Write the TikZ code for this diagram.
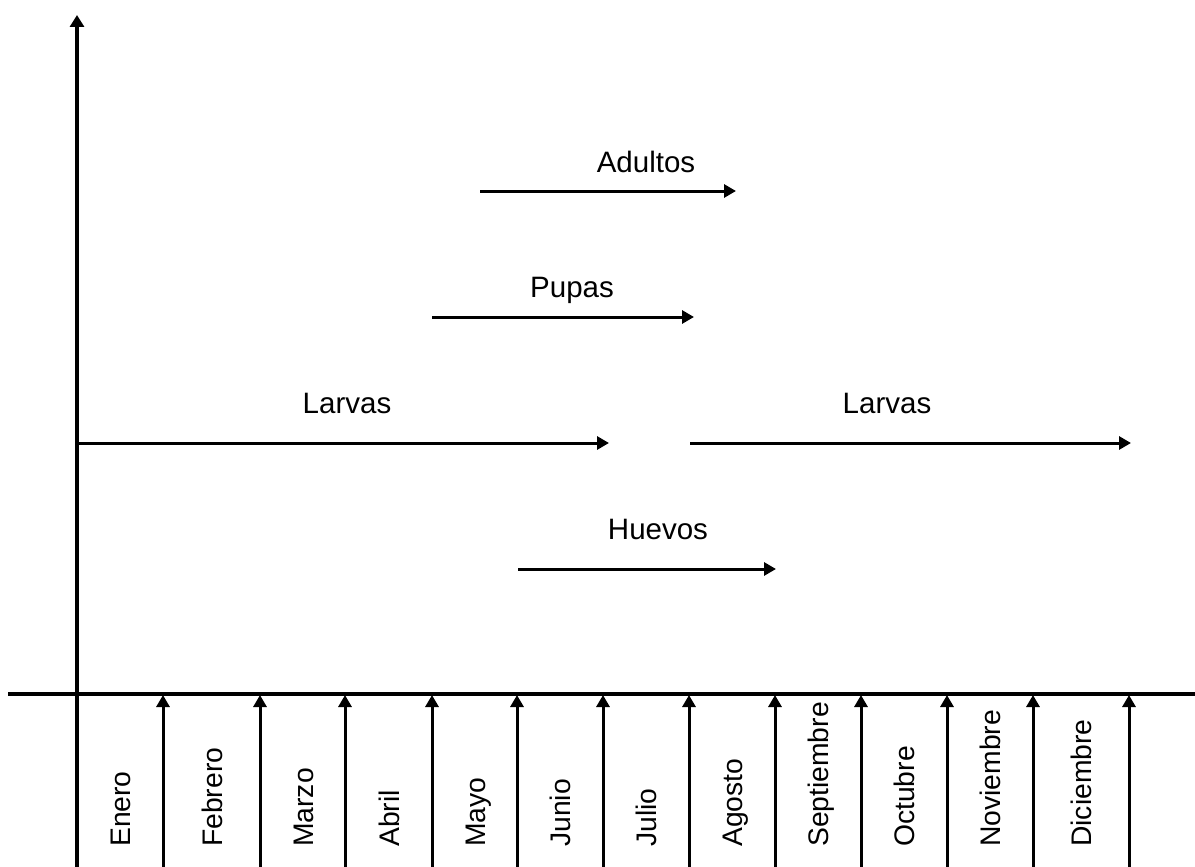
\documentclass[tikz,border=0pt]{standalone}
\usepackage{fontspec}
\setmainfont{Liberation Sans}
\usetikzlibrary{arrows.meta}

\tikzset{
	eje/.style={line width=3.2pt},
	flecha/.style={line width=3pt, -{Triangle[length=12pt,width=13pt]}},
	etapa/.style={inner sep=0pt, anchor=base, font=\fontsize{29.5}{34}\selectfont},
	mes/.style={inner sep=0pt, rotate=90, anchor=base west, font=\fontsize{28.3}{33}\selectfont}
}

\begin{document}
\begin{tikzpicture}[x=1pt, y=-1pt]
	\useasboundingbox (0,0) rectangle (1195,867);

	\coordinate (o1) at (77,867);
	\coordinate (o2) at (77,15);
	\coordinate (h1) at (8,694);
	\coordinate (h2) at (1195,694);

	\draw[eje, -{Triangle[length=12pt,width=14pt]}] (o1) -- (o2);
	\draw[eje] (h1) -- (h2);

	\foreach \x/\mx/\nombre [count=\i] in {163/120/Enero, 260/211.5/Febrero, 345/302.5/Marzo, 432/388.5/Abril, 517/474.5/Mayo, 603/560/Junio, 689/646/Julio, 775/732/Agosto, 861/818/Septiembre, 947/904/Octubre, 1033/990/Noviembre, 1129/1081/Diciembre} {
		\coordinate (t\i a) at (\x,867);
		\coordinate (t\i b) at (\x,695);
		\draw[flecha] (t\i a) -- (t\i b);
		\node[mes] (m\i) at (\mx+10.5,847) {\nombre};
	}

	\coordinate (ad1) at (480,191);
	\coordinate (ad2) at (736,191);
	\coordinate (pu1) at (432,317);
	\coordinate (pu2) at (694,317);
	\coordinate (la1) at (77,443);
	\coordinate (la2) at (609,443);
	\coordinate (lb1) at (690,443);
	\coordinate (lb2) at (1131,443);
	\coordinate (hu1) at (518,569);
	\coordinate (hu2) at (776,569);

	\draw[flecha] (ad1) -- (ad2);
	\draw[flecha] (pu1) -- (pu2);
	\draw[flecha] (la1) -- (la2);
	\draw[flecha] (lb1) -- (lb2);
	\draw[flecha] (hu1) -- (hu2);

	\node[etapa] (adultos) at (646,172) {Adultos};
	\node[etapa] (pupas) at (572,297) {Pupas};
	\node[etapa] (larvas1) at (347,413) {Larvas};
	\node[etapa] (larvas2) at (887,413) {Larvas};
	\node[etapa] (huevos) at (658,539) {Huevos};
\end{tikzpicture}
\end{document}
